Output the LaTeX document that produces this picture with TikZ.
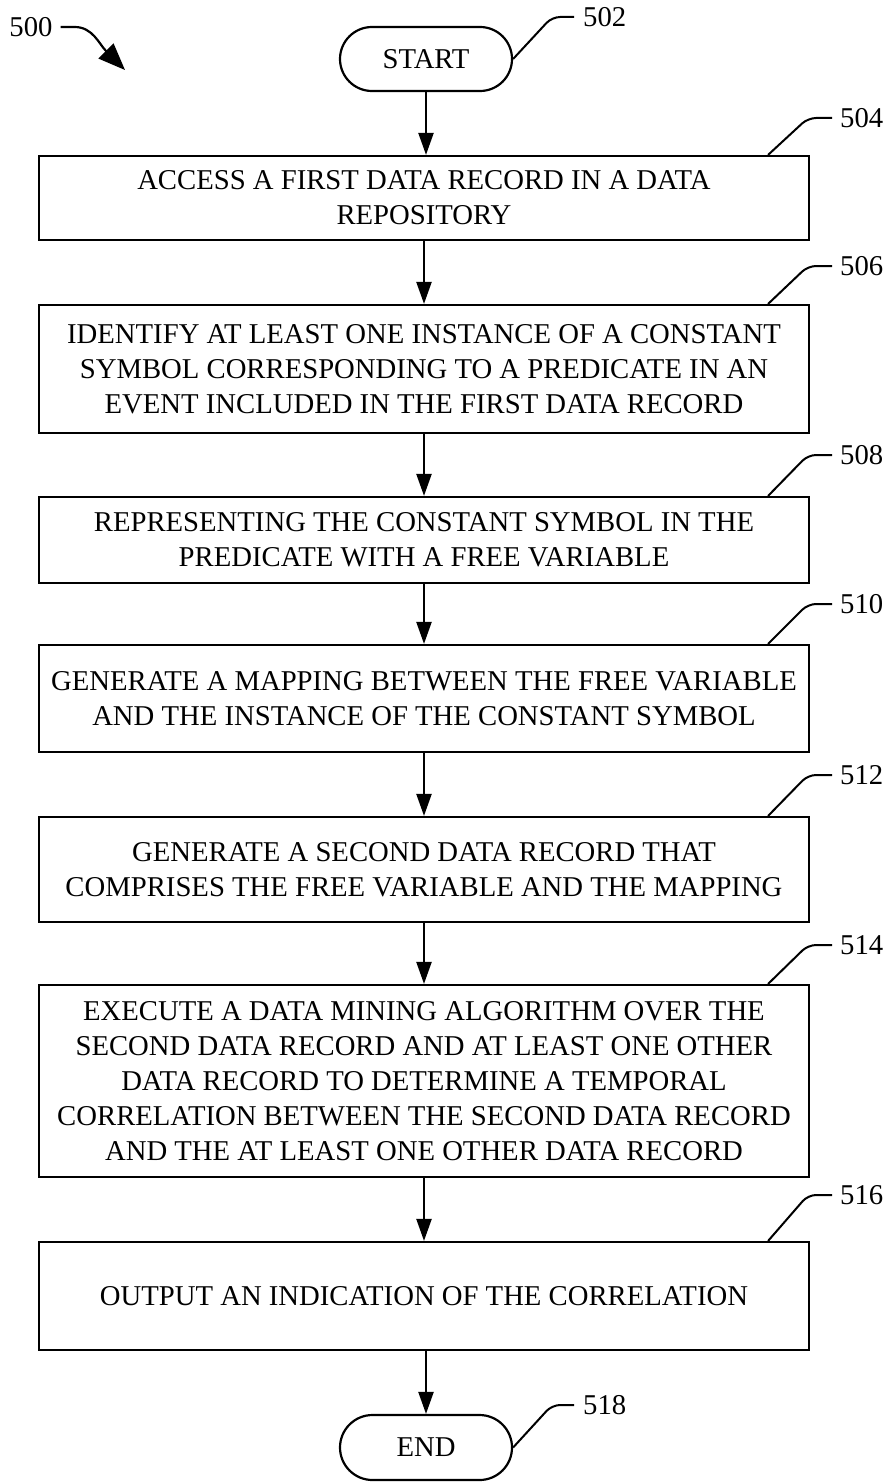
\documentclass[tikz,border=0pt]{standalone}
\usepackage{fontspec}
\setmainfont{Liberation Serif}
\usetikzlibrary{arrows.meta,shapes.misc,calc}
\begin{document}
\begin{tikzpicture}[x=1pt,y=-1pt,
  every node/.style={font=\fontsize{28.7}{35}\selectfont},
  box/.style={draw,line width=2.2pt,rectangle,minimum width=770pt,align=center,inner sep=0pt},
  term/.style={draw,line width=2.2pt,rounded rectangle,minimum width=172pt,minimum height=64pt,inner sep=0pt},
  flow/.style={line width=2.2pt,-{Triangle[length=22pt,width=15pt]}},
  leader/.style={line width=2pt,rounded corners=8pt},
  lbl/.style={anchor=west,inner sep=1pt}]
\useasboundingbox (0,0) rectangle (885,1482);

% terminals
\node[term] (s502) at (426,59) {START};
\node[term,minimum height=65pt] (s518) at (426,1447.5) {END};

% process boxes
\node[box,minimum height=84pt]  (b504) at (424,198)   {ACCESS A FIRST DATA RECORD IN A DATA\\REPOSITORY};
\node[box,minimum height=128pt] (b506) at (424,369)   {IDENTIFY AT LEAST ONE INSTANCE OF A CONSTANT\\SYMBOL CORRESPONDING TO A PREDICATE IN AN\\EVENT INCLUDED IN THE FIRST DATA RECORD};
\node[box,minimum height=86pt]  (b508) at (424,540)   {REPRESENTING THE CONSTANT SYMBOL IN THE\\PREDICATE WITH A FREE VARIABLE};
\node[box,minimum height=107pt] (b510) at (424,698.5) {GENERATE A MAPPING BETWEEN THE FREE VARIABLE\\AND THE INSTANCE OF THE CONSTANT SYMBOL};
\node[box,minimum height=105pt] (b512) at (424,869.5) {GENERATE A SECOND DATA RECORD THAT\\COMPRISES THE FREE VARIABLE AND THE MAPPING};
\node[box,minimum height=192pt] (b514) at (424,1081)  {EXECUTE A DATA MINING ALGORITHM OVER THE\\SECOND DATA RECORD AND AT LEAST ONE OTHER\\DATA RECORD TO DETERMINE A TEMPORAL\\CORRELATION BETWEEN THE SECOND DATA RECORD\\AND THE AT LEAST ONE OTHER DATA RECORD};
\node[box,minimum height=108pt] (b516) at (424,1296)  {OUTPUT AN INDICATION OF THE CORRELATION};

% flow arrows
\draw[flow] (s502.south) -- (s502.south |- b504.north);
\draw[flow] (b504.south) -- (b506.north);
\draw[flow] (b506.south) -- (b508.north);
\draw[flow] (b508.south) -- (b510.north);
\draw[flow] (b510.south) -- (b512.north);
\draw[flow] (b512.south) -- (b514.north);
\draw[flow] (b514.south) -- (b516.north);
\draw[flow] (b516.south -| s518.north) -- (s518.north);

% reference labels
\node[lbl] (l502) at (582,17)   {502};
\node[lbl] (l504) at (839,118)  {504};
\node[lbl] (l506) at (839,266)  {506};
\node[lbl] (l508) at (839,455)  {508};
\node[lbl] (l510) at (839,604)  {510};
\node[lbl] (l512) at (839,775)  {512};
\node[lbl] (l514) at (839,945)  {514};
\node[lbl] (l516) at (839,1195) {516};
\node[lbl] (l518) at (582,1405) {518};

\draw[leader] (s502.east) -- ($(l502.west)+(-30,0)$) -- ($(l502.west)+(-8,0)$);
\draw[leader] (s518.east) -- ($(l518.west)+(-30,0)$) -- ($(l518.west)+(-8,0)$);
\foreach \n in {504,506,508,510,512,514,516}{
  \draw[leader] ($(b\n.north east)+(-42,0)$) -- ($(l\n.west)+(-31,0)$) -- ($(l\n.west)+(-7,0)$);
}

% figure number
\node[inner sep=2pt] (l500) at (31,27) {500};
\coordinate (t500) at (125,70);
\draw[line width=2.2pt,-{Triangle[length=27pt,width=21pt]}] ($(l500.east)+(6,0)$) -- ++(14,0) .. controls ($(l500.east)+(38,0)$) and ($(t500)+(-26,-26)$) .. (t500);
\end{tikzpicture}
\end{document}
